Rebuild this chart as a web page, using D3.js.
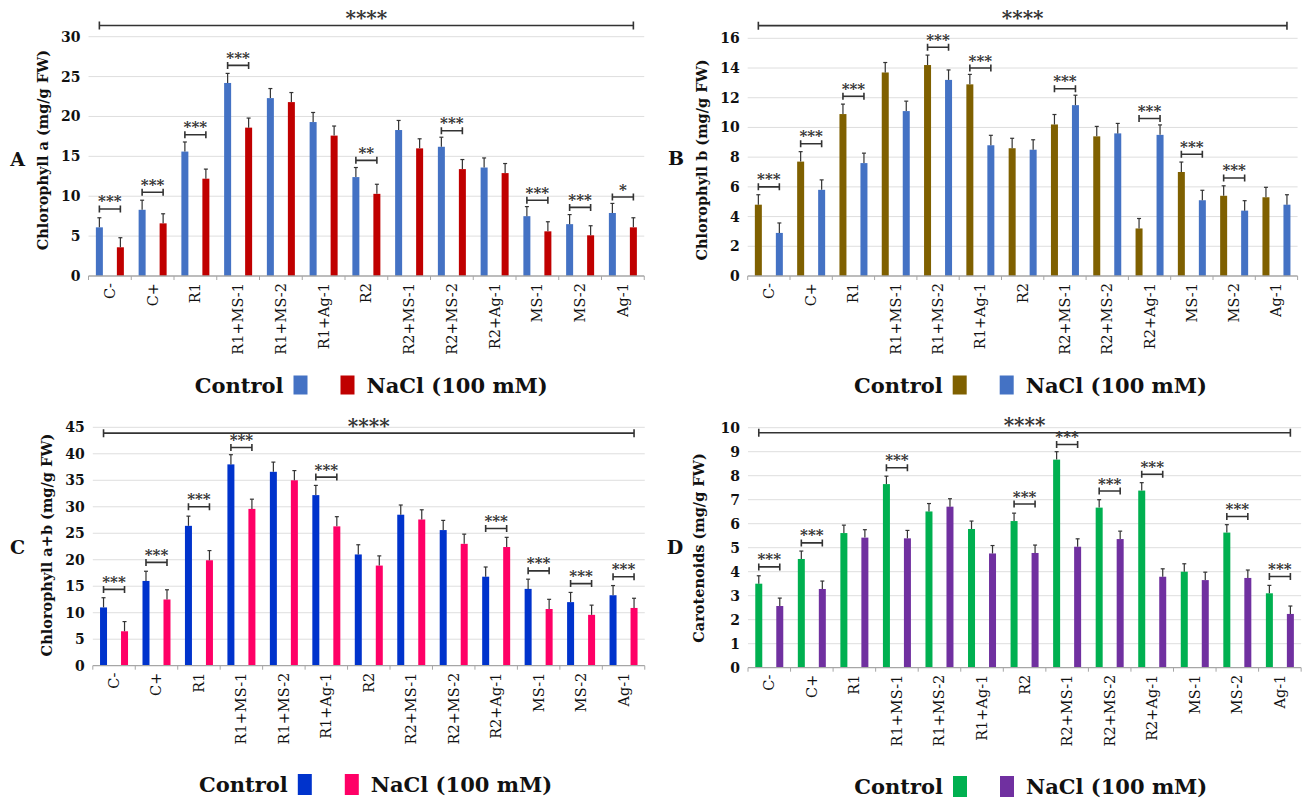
<!DOCTYPE html>
<html>
<head>
<meta charset="utf-8">
<script src="https://cdn.jsdelivr.net/npm/d3@7"></script>
<style>
  body { margin: 0; background: #fff; }
  svg { display: block; }
  text { font-family: "DejaVu Serif", serif; fill: #111; }
</style>
</head>
<body>
<div id="container"></div>
<script>
var WIDTH = 1303;
var HEIGHT = 803;

var categories = ["C-", "C+", "R1", "R1+MS-1", "R1+MS-2", "R1+Ag-1", "R2",
                  "R2+MS-1", "R2+MS-2", "R2+Ag-1", "MS-1", "MS-2", "Ag-1"];
var seriesNames = ["Control", "NaCl (100 mM)"];

// A - chlorophyll a
var aControl = [6.1, 8.3, 15.6, 24.2, 22.3, 19.3, 12.4, 18.3, 16.2, 13.6, 7.5, 6.5, 7.9];
var aNaCl    = [3.6, 6.6, 12.2, 18.6, 21.8, 17.6, 10.3, 16.0, 13.4, 12.9, 5.6, 5.1, 6.1];
var aErrC    = [1.2, 1.2, 1.2, 1.2, 1.2, 1.2, 1.2, 1.2, 1.2, 1.2, 1.2, 1.2, 1.2];
var aErrN    = [1.2, 1.2, 1.2, 1.2, 1.2, 1.2, 1.2, 1.2, 1.2, 1.2, 1.2, 1.2, 1.2];
var aTicks   = [0, 5, 10, 15, 20, 25, 30];
var aSig     = [[0, 8.4, "***"], [1, 10.5, "***"], [2, 17.7, "***"], [3, 26.4, "***"],
                [6, 14.5, "**"], [8, 18.2, "***"], [10, 9.5, "***"], [11, 8.6, "***"], [12, 9.9, "*"]];
var aAll     = 31.4;

// B - chlorophyll b
var bControl = [4.8, 7.7, 10.9, 13.7, 14.2, 12.9, 8.6, 10.2, 9.4, 3.2, 7.0, 5.4, 5.3];
var bNaCl    = [2.9, 5.8, 7.6, 11.1, 13.2, 8.8, 8.5, 11.5, 9.6, 9.5, 5.1, 4.4, 4.8];
var bErrC    = [0.67, 0.67, 0.67, 0.67, 0.67, 0.67, 0.67, 0.67, 0.67, 0.67, 0.67, 0.67, 0.67];
var bErrN    = [0.67, 0.67, 0.67, 0.67, 0.67, 0.67, 0.67, 0.67, 0.67, 0.67, 0.67, 0.67, 0.67];
var bTicks   = [0, 2, 4, 6, 8, 10, 12, 14, 16];
var bSig     = [[0, 6.0, "***"], [1, 8.9, "***"], [2, 12.1, "***"], [4, 15.4, "***"], [5, 14.0, "***"],
                [7, 12.6, "***"], [9, 10.6, "***"], [10, 8.2, "***"], [11, 6.6, "***"]];
var bAll     = 16.85;

// C - chlorophyll a+b
var cControl = [11.0, 16.0, 26.4, 38.0, 36.6, 32.2, 21.0, 28.5, 25.6, 16.8, 14.5, 12.0, 13.3];
var cNaCl    = [6.5, 12.5, 19.9, 29.6, 35.0, 26.3, 18.9, 27.6, 23.0, 22.4, 10.7, 9.6, 10.9];
var cErrC    = [1.83, 1.83, 1.83, 1.83, 1.83, 1.83, 1.83, 1.83, 1.83, 1.83, 1.83, 1.83, 1.83];
var cErrN    = [1.83, 1.83, 1.83, 1.83, 1.83, 1.83, 1.83, 1.83, 1.83, 1.83, 1.83, 1.83, 1.83];
var cTicks   = [0, 5, 10, 15, 20, 25, 30, 35, 40, 45];
var cSig     = [[0, 14.4, "***"], [1, 19.5, "***"], [2, 30.0, "***"], [3, 41.2, "***"], [5, 35.6, "***"],
                [9, 25.9, "***"], [10, 17.9, "***"], [11, 15.5, "***"], [12, 16.8, "***"]];
var cAll     = 43.9;

// D - carotenoids
var dControl = [3.5, 4.53, 5.61, 7.65, 6.51, 5.78, 6.11, 8.67, 6.67, 7.38, 4.0, 5.63, 3.1];
var dNaCl    = [2.57, 3.28, 5.42, 5.39, 6.71, 4.76, 4.78, 5.04, 5.36, 3.79, 3.65, 3.74, 2.24];
var dErrC    = [0.33, 0.33, 0.33, 0.33, 0.33, 0.33, 0.33, 0.33, 0.33, 0.33, 0.33, 0.33, 0.33];
var dErrN    = [0.33, 0.33, 0.33, 0.33, 0.33, 0.33, 0.33, 0.33, 0.33, 0.33, 0.33, 0.33, 0.33];
var dTicks   = [0, 1, 2, 3, 4, 5, 6, 7, 8, 9, 10];
var dSig     = [[0, 4.2, "***"], [1, 5.2, "***"], [3, 8.33, "***"], [6, 6.82, "***"], [7, 9.3, "***"],
                [8, 7.36, "***"], [9, 8.06, "***"], [11, 6.3, "***"], [12, 3.8, "***"]];
var dAll     = 9.79;

var svg = d3.select('#container')
	.append('svg')
	.attr('width', WIDTH)
	.attr('height', HEIGHT);

var panels = [
	{letter: "A", title: "Chlorophyll a (mg/g FW)", ctrl: aControl, nacl: aNaCl, errC: aErrC, errN: aErrN,
	 ticks: aTicks, sig: aSig, all: aAll, colors: ["#4472C4", "#C00000"],
	 x0: 88.5, band: 42.75, yBase: 276, yTop: 36.7,
	 titleX: 43, titleY: 150, letterX: 17.5, letterY: 159, legY: 385, sqH: 19},
	{letter: "B", title: "Chlorophyll b (mg/g FW)", ctrl: bControl, nacl: bNaCl, errC: bErrC, errN: bErrN,
	 ticks: bTicks, sig: bSig, all: bAll, colors: ["#7F6000", "#4472C4"],
	 x0: 747.7, band: 42.3, yBase: 276, yTop: 38.3,
	 titleX: 702, titleY: 160, letterX: 676, letterY: 158, legY: 385, sqH: 19},
	{letter: "C", title: "Chlorophyll a+b (mg/g FW)", ctrl: cControl, nacl: cNaCl, errC: cErrC, errN: cErrN,
	 ticks: cTicks, sig: cSig, all: cAll, colors: ["#0033CC", "#FF0066"],
	 x0: 92.8, band: 42.46, yBase: 665.7, yTop: 427.3,
	 titleX: 47, titleY: 545, letterX: 17.5, letterY: 547, legY: 784.5, sqH: 21},
	{letter: "D", title: "Carotenoids (mg/g FW)", ctrl: dControl, nacl: dNaCl, errC: dErrC, errN: dErrN,
	 ticks: dTicks, sig: dSig, all: dAll, colors: ["#00B050", "#7030A0"],
	 x0: 748, band: 42.55, yBase: 667.7, yTop: 427.7,
	 titleX: 699, titleY: 548, letterX: 675, letterY: 547, legY: 786.5, sqH: 21}
];

panels.forEach(drawPanel);

function drawPanel(p) {
	var g = svg.append('g');
	var x1 = p.x0 + p.band * categories.length;
	var x = d3.scaleBand().domain(categories).range([p.x0, x1]);
	var y = d3.scaleLinear().domain([0, p.ticks[p.ticks.length - 1]]).range([p.yBase, p.yTop]);
	var off = 10.5, bw = 7;
	var cx = function(i, s) { return x(categories[i]) + x.bandwidth() / 2 + (s == 0 ? -off : off); };

	// gridlines
	g.append('g').selectAll('line').data(p.ticks.slice(1)).enter().append('line')
		.attr('x1', p.x0).attr('x2', x1)
		.attr('y1', function(d) { return y(d); }).attr('y2', function(d) { return y(d); })
		.style('stroke', '#dedede').style('stroke-width', 1);

	// y axis labels
	var yAxis = d3.axisLeft(y).tickValues(p.ticks).tickSize(0).tickPadding(8);
	var ya = g.append('g').attr('transform', 'translate(' + p.x0 + ',0)').call(yAxis);
	ya.select('.domain').remove();
	ya.selectAll('text').style('font-family', '"DejaVu Serif", serif')
		.style('font-size', '14px').style('font-weight', 'bold').style('fill', '#111');

	// bars
	[p.ctrl, p.nacl].forEach(function(vals, s) {
		var errs = s == 0 ? p.errC : p.errN;
		g.append('g').selectAll('rect').data(vals).enter().append('rect')
			.attr('x', function(d, i) { return cx(i, s) - bw / 2; })
			.attr('y', function(d) { return y(d); })
			.attr('width', bw)
			.attr('height', function(d) { return p.yBase - y(d); })
			.style('fill', p.colors[s]);
		var eb = g.append('g').selectAll('g').data(vals).enter().append('g');
		eb.append('line')
			.attr('x1', function(d, i) { return cx(i, s); }).attr('x2', function(d, i) { return cx(i, s); })
			.attr('y1', function(d) { return y(d); })
			.attr('y2', function(d, i) { return y(d + errs[i]); })
			.style('stroke', '#333').style('stroke-width', 1.2);
		eb.append('line')
			.attr('x1', function(d, i) { return cx(i, s) - 2; }).attr('x2', function(d, i) { return cx(i, s) + 2; })
			.attr('y1', function(d, i) { return y(d + errs[i]); })
			.attr('y2', function(d, i) { return y(d + errs[i]); })
			.style('stroke', '#333').style('stroke-width', 1.2);
	});

	// x axis baseline with ticks between categories
	g.append('line').attr('x1', p.x0).attr('x2', x1).attr('y1', p.yBase).attr('y2', p.yBase)
		.style('stroke', '#a6a6a6').style('stroke-width', 1.3);
	g.append('g').selectAll('line').data(d3.range(categories.length + 1)).enter().append('line')
		.attr('x1', function(d) { return p.x0 + d * p.band; })
		.attr('x2', function(d) { return p.x0 + d * p.band; })
		.attr('y1', p.yBase).attr('y2', p.yBase + 4)
		.style('stroke', '#a6a6a6').style('stroke-width', 1);

	// category labels
	g.append('g').selectAll('text').data(categories).enter().append('text')
		.attr('transform', function(d) {
			return 'translate(' + (x(d) + x.bandwidth() / 2 + 5) + ',' + (p.yBase + 7) + ') rotate(-90)';
		})
		.attr('text-anchor', 'end')
		.style('font-size', '14.5px')
		.text(function(d) { return d; });

	// significance brackets
	var sg = g.append('g');
	p.sig.forEach(function(s) {
		var xa = cx(s[0], 0), xb = cx(s[0], 1), yy = y(s[1]);
		sg.append('path')
			.attr('d', 'M' + xa + ',' + (yy - 3.5) + 'V' + (yy + 3.5) + 'M' + xa + ',' + yy + 'H' + xb +
				'M' + xb + ',' + (yy - 3.5) + 'V' + (yy + 3.5))
			.style('stroke', '#333').style('stroke-width', 1.6).style('fill', 'none');
		sg.append('text').attr('x', (xa + xb) / 2).attr('y', yy - 2.5)
			.attr('text-anchor', 'middle').style('font-size', '15px').style('font-weight', 'bold')
			.style('fill', '#333').text(s[2]);
	});
	var xa = cx(0, 0), xb = cx(categories.length - 1, 1), ya2 = y(p.all);
	sg.append('path')
		.attr('d', 'M' + xa + ',' + (ya2 - 4) + 'V' + (ya2 + 4) + 'M' + xa + ',' + ya2 + 'H' + xb +
			'M' + xb + ',' + (ya2 - 4) + 'V' + (ya2 + 4))
		.style('stroke', '#333').style('stroke-width', 1.6).style('fill', 'none');
	sg.append('text').attr('x', (xa + xb) / 2).attr('y', ya2 - 0.5)
		.attr('text-anchor', 'middle').style('font-size', '20px').style('font-weight', 'bold')
		.style('fill', '#333').text('****');

	// axis title and panel letter
	g.append('text')
		.attr('transform', 'translate(' + (p.titleX + 5) + ',' + p.titleY + ') rotate(-90)')
		.attr('text-anchor', 'middle').style('font-size', '14.5px').style('font-weight', 'bold')
		.text(p.title);
	g.append('text').attr('x', p.letterX).attr('y', p.letterY + 7)
		.attr('text-anchor', 'middle').style('font-size', '19px').style('font-weight', 'bold')
		.text(p.letter);

	// legend
	var lg = g.append('g');
	var sq1 = p.x0 + 205, sq2 = p.x0 + 252;
	lg.append('text').attr('x', sq1 - 10).attr('y', p.legY + 7.5).attr('text-anchor', 'end')
		.style('font-size', '21px').style('font-weight', 'bold').text(seriesNames[0]);
	lg.append('rect').attr('x', sq1).attr('y', p.legY - p.sqH / 2).attr('width', 14).attr('height', p.sqH)
		.style('fill', p.colors[0]);
	lg.append('rect').attr('x', sq2).attr('y', p.legY - p.sqH / 2).attr('width', 14).attr('height', p.sqH)
		.style('fill', p.colors[1]);
	lg.append('text').attr('x', sq2 + 26).attr('y', p.legY + 7.5)
		.style('font-size', '21px').style('font-weight', 'bold').text(seriesNames[1]);
}
</script>
</body>
</html>
